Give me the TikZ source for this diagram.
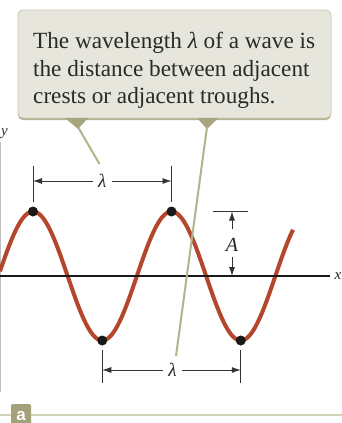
\documentclass[tikz,border=0pt]{standalone}
\usepackage{fontspec}
\setmainfont{Liberation Serif}
\newfontfamily\tabfont{Liberation Sans}
\usetikzlibrary{arrows.meta}
\definecolor{boxfill}{HTML}{E7E6DC}
\definecolor{boxedge}{HTML}{CAC8B6}
\definecolor{boxshadow}{HTML}{B2B095}
\definecolor{tailcol}{HTML}{A7A57B}
\definecolor{pointcol}{HTML}{B3B38C}
\definecolor{wavecol}{HTML}{B4462B}
\definecolor{textcol}{HTML}{2A2A2A}
\definecolor{tabcol}{HTML}{A3A17A}
\definecolor{tabline}{HTML}{D3D3BA}
\tikzset{
  wave/.style={wavecol, line width=4pt, line cap=butt},
  axisline/.style={black!90, line width=1.6pt},
  yaxisline/.style={black!25, line width=0.8pt},
  dimline/.style={black!80, line width=0.8pt},
  dimarrow/.style={dimline, -{Latex[length=9pt,width=6pt]}},
  pointer/.style={pointcol, line width=2pt},
  dot/.style={circle, fill=black!90, inner sep=0pt, minimum size=10pt},
  caption/.style={anchor=base west, inner sep=0pt, text=textcol, font=\fontsize{23.2}{27}\selectfont},
  dimlabel/.style={inner sep=0pt, text=black!85, font=\fontsize{19}{19}\selectfont\itshape},
}
\begin{document}
\begin{tikzpicture}[x=1pt,y=-1pt]
\useasboundingbox (0,0) rectangle (342,423);
\fill[white] (0,0) rectangle (342,423);

% y axis (at left edge)
\coordinate (ytop) at (0.8,142);
\coordinate (ybot) at (0.8,392);
\draw[yaxisline] (ytop) -- (ybot);
\node[font=\fontsize{15}{15}\selectfont\itshape, text=black!80, inner sep=0pt, anchor=west] (ylab) at (1,134) {y};

% wave
\draw[wave, domain=0:293, samples=240, variable=\t]
  plot (\t, {276 - 64.5*cos(2.59928*(\t-33))});

% x axis
\coordinate (xl) at (0,276);
\coordinate (xr) at (330,276);
\draw[axisline] (xl) -- (xr);
\node[font=\fontsize{15}{15}\selectfont\itshape, text=black!85, inner sep=0pt, anchor=east] (xlab) at (341.5,276) {x};

% crests and troughs
\node[dot] (c1) at (33,211.5) {};
\node[dot] (c2) at (171.5,211.5) {};
\node[dot] (d1) at (102.25,340.5) {};
\node[dot] (d2) at (240.75,340.5) {};

% top wavelength dimension
\coordinate (c1a) at (33,166); \coordinate (c1b) at (33,202);
\coordinate (c2a) at (171.5,166); \coordinate (c2b) at (171.5,202);
\draw[dimline] (c1a) -- (c1b);
\draw[dimline] (c2a) -- (c2b);
\node[dimlabel] (lamtop) at (102.25,181) {λ};
\coordinate (c1m) at (33,181); \coordinate (c2m) at (171.5,181);
\coordinate (lt1) at (93,181); \coordinate (lt2) at (111.5,181);
\draw[dimarrow] (lt1) -- (c1m);
\draw[dimarrow] (lt2) -- (c2m);

% bottom wavelength dimension
\coordinate (d1a) at (102.25,350); \coordinate (d1b) at (102.25,383);
\coordinate (d2a) at (240.75,350); \coordinate (d2b) at (240.75,383);
\draw[dimline] (d1a) -- (d1b);
\draw[dimline] (d2a) -- (d2b);
\node[dimlabel] (lambot) at (172.5,370) {λ};
\coordinate (d1m) at (102.25,370); \coordinate (d2m) at (240.75,370);
\coordinate (lb1) at (163,370); \coordinate (lb2) at (182,370);
\draw[dimarrow] (lb1) -- (d1m);
\draw[dimarrow] (lb2) -- (d2m);

% amplitude
\coordinate (at1) at (213,211.5); \coordinate (at2) at (248,211.5);
\draw[dimline] (at1) -- (at2);
\node[inner sep=0pt, text=black!85, font=\fontsize{20}{20}\selectfont\itshape] (alab) at (232,245) {A};
\coordinate (au1) at (232,229); \coordinate (au2) at (232,211.5);
\coordinate (ad1) at (232,257); \coordinate (ad2) at (232,276);
\draw[dimarrow] (au1) -- (au2);
\draw[dimarrow] (ad1) -- (ad2);

% callout box
\fill[boxshadow, rounded corners=5pt] (18,12) rectangle (331,120);
\draw[boxedge, fill=boxfill, line width=0.8pt, rounded corners=5pt] (18,10) rectangle (331,118);
\fill[tailcol] (65,118) -- (88,118) -- (78,129) -- cycle;
\fill[tailcol] (197,118) -- (218,118) -- (207,129) -- cycle;
\coordinate (p1a) at (78,127); \coordinate (p1b) at (99.5,164);
\coordinate (p2a) at (207,127); \coordinate (p2b) at (176,356);
\draw[pointer] (p1a) -- (p1b);
\draw[pointer] (p2a) -- (p2b);

\node[caption] (t1) at (33,48) {The wavelength {\itshape λ} of a wave is};
\node[caption] (t2) at (33,76) {the distance between adjacent};
\node[caption] (t3) at (33,103) {crests or adjacent troughs.};

% figure tab
\coordinate (tl1) at (0,415); \coordinate (tl2) at (342,415);
\draw[tabline, line width=1.4pt] (tl1) -- (tl2);
\fill[tabcol, rounded corners=2pt] (11,425) -- (11,404) -- (31,404) -- (31,425);
\node[text=white, font=\tabfont\bfseries\fontsize{17}{17}\selectfont, inner sep=0pt, anchor=base] (tab) at (21,420) {a};
\end{tikzpicture}
\end{document}
